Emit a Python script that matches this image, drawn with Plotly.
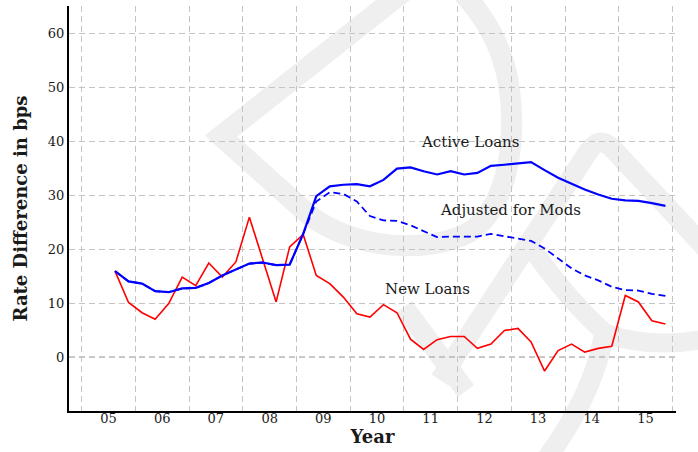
import plotly.graph_objects as go

# ---------------- data ----------------
quarters = ["2005Q3", "2005Q4",
            "2006Q1", "2006Q2", "2006Q3", "2006Q4",
            "2007Q1", "2007Q2", "2007Q3", "2007Q4",
            "2008Q1", "2008Q2", "2008Q3", "2008Q4",
            "2009Q1", "2009Q2", "2009Q3", "2009Q4",
            "2010Q1", "2010Q2", "2010Q3", "2010Q4",
            "2011Q1", "2011Q2", "2011Q3", "2011Q4",
            "2012Q1", "2012Q2", "2012Q3", "2012Q4",
            "2013Q1", "2013Q2", "2013Q3", "2013Q4",
            "2014Q1", "2014Q2", "2014Q3", "2014Q4",
            "2015Q1", "2015Q2", "2015Q3", "2015Q4"]

new_loans = [15.9, 10.1, 8.2, 7.0, 9.9, 14.8, 13.2, 17.4, 14.8, 17.6,
             25.9, 18.1, 10.2, 20.4, 22.7, 15.1, 13.6, 11.1, 8.0, 7.4,
             9.7, 8.2, 3.3, 1.4, 3.2, 3.8, 3.8, 1.6, 2.4, 4.9,
             5.3, 2.8, -2.6, 1.2, 2.4, 0.9, 1.6, 2.0, 11.4, 10.2,
             6.7, 6.1]

active_loans = [15.9, 14.0, 13.6, 12.2, 12.0, 12.7, 12.8, 13.7, 15.1, 16.2,
                17.3, 17.5, 17.0, 17.1, 22.8, 29.8, 31.6, 31.9, 32.0, 31.6,
                32.8, 34.9, 35.1, 34.4, 33.8, 34.4, 33.8, 34.1, 35.4, 35.6,
                35.8, 36.1, 34.6, 33.2, 32.1, 31.0, 30.1, 29.3, 29.0, 28.9,
                28.5, 28.0]

adjusted_mods = [15.9, 14.0, 13.6, 12.2, 12.0, 12.7, 12.8, 13.7, 15.1, 16.2,
                 17.3, 17.5, 17.0, 17.1, 22.8, 28.8, 30.5, 30.2, 28.8, 26.1,
                 25.3, 25.2, 24.4, 23.3, 22.2, 22.3, 22.3, 22.3, 22.8, 22.4,
                 22.0, 21.5, 20.1, 18.2, 16.4, 15.1, 14.2, 13.0, 12.4, 12.3,
                 11.7, 11.3]

tick_years = [2005, 2006, 2007, 2008, 2009, 2010, 2011, 2012, 2013, 2014, 2015]
tick_labels = ["05", "06", "07", "08", "09", "10", "11", "12", "13", "14", "15"]
extra_tick = ("2016-07-02", "16")   # label just past the axis end (cut by the page edge)
y_ticks = [0, 10, 20, 30, 40, 50, 60]


def mid_quarter(q):
    year, n = int(q[:4]), int(q[-1])
    return f"{year}-{3 * n - 1:02d}-15"


x_dates = [mid_quarter(q) for q in quarters]

# ---------------- geometry helpers ----------------
W, H = 698, 452
ML, MR, MT, MB = 69, 22, 6, 41
PW, PH = W - ML - MR, H - MT - MB


def to_paper(x, y):
    return (x - ML) / PW, (MT + PH - y) / PH


def build_path(cmds):
    parts = []
    for cmd, pts in cmds:
        coords = " ".join("%.4f,%.4f" % to_paper(x, y) for x, y in pts)
        parts.append(f"{cmd} {coords}")
    return " ".join(parts)


wm_color = "#efefef"
watermark = [
    ([("M", [(412, -15)]), ("L", [(221, 136)]), ("L", [(300, 207)]),
      ("C", [(340, 246), (420, 258), (470, 232)]),
      ("C", [(508, 206), (518, 140), (508, 80)]),
      ("C", [(500, 40), (482, 12), (455, -15)])], 21),
    ([("M", [(404, 307)]), ("L", [(466, 391)])], 20),
    ([("M", [(440, 380)]), ("L", [(588, 152)]),
      ("Q", [(600, 134), (614, 150)]), ("L", [(700, 242)]),
      ("Q", [(745, 290), (725, 345)])], 20),
    ([("M", [(533, 250)]), ("Q", [(568, 300), (605, 333)]),
      ("Q", [(655, 352), (725, 335)])], 19),
    ([("M", [(604, 335)]), ("Q", [(592, 400), (538, 470)])], 20),
]

shapes = []
for cmds, lw in watermark:
    shapes.append(dict(type="path", xref="paper", yref="paper",
                       path=build_path(cmds), layer="below",
                       line=dict(color=wm_color, width=lw)))

# dashed zero line (darker than the grid)
shapes.append(dict(type="line", xref="paper", yref="y", x0=0, x1=1, y0=0, y1=0,
                   layer="between", line=dict(color="#9a9a9a", width=1.2, dash="6px,4px")))

# ---------------- figure ----------------
serif = "DejaVu Serif"
fig = go.Figure()
fig.add_trace(go.Scatter(x=x_dates, y=new_loans, mode="lines", name="New Loans",
                         line=dict(color="#ff0000", width=1.6)))
fig.add_trace(go.Scatter(x=x_dates, y=adjusted_mods, mode="lines", name="Adjusted for Mods",
                         line=dict(color="#0000ff", width=1.8, dash="7px,4px")))
fig.add_trace(go.Scatter(x=x_dates, y=active_loans, mode="lines", name="Active Loans",
                         line=dict(color="#0000ff", width=2.2)))
fig.add_trace(go.Scatter(x=[extra_tick[0]], y=[-11.4], mode="text", text=[extra_tick[1]],
                         textposition="middle center", cliponaxis=False,
                         hoverinfo="skip",
                         textfont=dict(family=serif, size=13, color="#1a1a1a")))

label_font = dict(family=serif, size=15, color="#1a1a1a")
annotations = [
    dict(x="2012-03-25", y=39.8, xref="x", yref="y", text="Active Loans",
         showarrow=False, font=label_font),
    dict(x="2012-12-28", y=27.2, xref="x", yref="y", text="Adjusted for Mods",
         showarrow=False, font=label_font),
    dict(x="2011-06-10", y=12.6, xref="x", yref="y", text="New Loans",
         showarrow=False, font=label_font),
]

fig.update_layout(
    width=W, height=H,
    margin=dict(l=ML, r=MR, t=MT, b=MB, autoexpand=False),
    paper_bgcolor="white", plot_bgcolor="rgba(0,0,0,0)",
    showlegend=False,
    shapes=shapes,
    annotations=annotations,
    xaxis=dict(
        type="date",
        range=["2004-10-06", "2016-01-26"],
        tickmode="array",
        tickvals=[f"{y}-07-02" for y in tick_years],
        ticktext=tick_labels,
        ticks="", showgrid=False, zeroline=False,
        showline=True, linecolor="black", linewidth=2,
        automargin=False,
        ticklabelstandoff=-6,
        tickfont=dict(family=serif, size=13, color="#1a1a1a"),
        title=dict(text="<b>Year</b>", font=dict(family=serif, size=18, color="#1a1a1a"),
                   standoff=2),
        minor=dict(tick0="2005-01-01", dtick="M12", showgrid=True,
                   gridcolor="#c4c4c4", gridwidth=1, griddash="6px,4px", ticks=""),
    ),
    yaxis=dict(
        range=[-10, 65],
        tickmode="array", tickvals=y_ticks,
        ticks="", showgrid=True, gridcolor="#c4c4c4", gridwidth=1, griddash="6px,4px",
        zeroline=False,
        showline=True, linecolor="black", linewidth=2,
        automargin=False,
        tickfont=dict(family=serif, size=13, color="#1a1a1a"),
        title=dict(text="<b>Rate Difference in bps</b>",
                   font=dict(family=serif, size=18, color="#1a1a1a"), standoff=16),
    ),
)

fig.write_html("out.html",
               config={"displayModeBar": False},
               post_script="document.body.style.margin='0';"
                           "document.body.style.padding='0';")
